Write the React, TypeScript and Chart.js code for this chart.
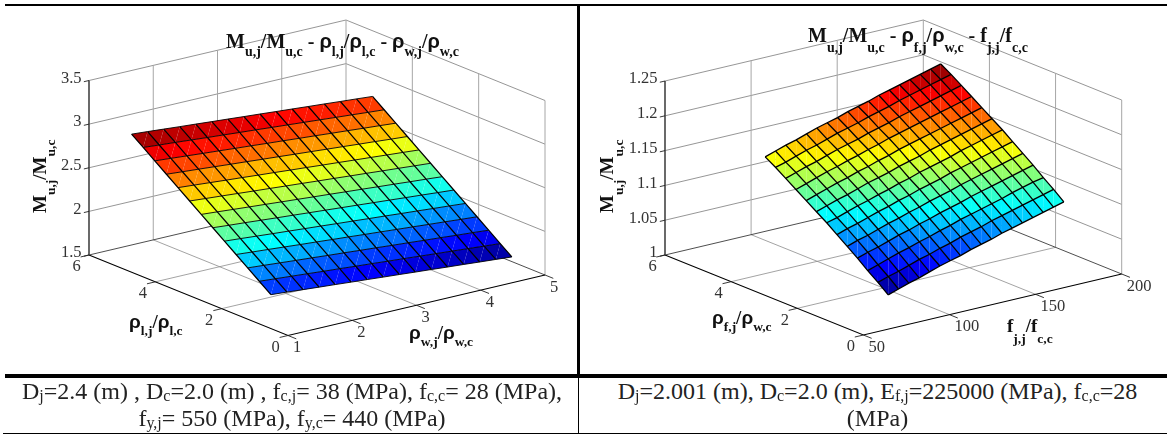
import React, { useEffect, useRef } from "react";
import { Chart, registerables } from "chart.js";

Chart.register(...registerables);

// ---------- left panel data ----------
const rhoWLeft = [1.25, 1.5, 1.75, 2, 2.25, 2.5, 2.75, 3, 3.25, 3.5, 3.75, 4, 4.25, 4.5, 4.75, 5];
const rhoLLeft = [1, 1.35, 1.7, 2.05, 2.4, 2.75, 3.1, 3.45, 3.8, 4.15, 4.5, 4.85, 5.2];
const zLeft = [
  [1.771, 1.757, 1.742, 1.727, 1.713, 1.698, 1.684, 1.669, 1.655, 1.64, 1.626, 1.611, 1.597, 1.582, 1.568, 1.553],
  [1.871, 1.856, 1.842, 1.827, 1.812, 1.798, 1.783, 1.769, 1.754, 1.74, 1.725, 1.711, 1.696, 1.682, 1.667, 1.653],
  [1.97, 1.956, 1.941, 1.926, 1.912, 1.897, 1.883, 1.868, 1.854, 1.839, 1.825, 1.81, 1.796, 1.781, 1.767, 1.752],
  [2.07, 2.055, 2.041, 2.026, 2.011, 1.997, 1.982, 1.968, 1.953, 1.939, 1.924, 1.91, 1.895, 1.881, 1.866, 1.852],
  [2.169, 2.155, 2.14, 2.125, 2.111, 2.096, 2.082, 2.067, 2.053, 2.038, 2.024, 2.009, 1.995, 1.98, 1.966, 1.951],
  [2.269, 2.254, 2.24, 2.225, 2.21, 2.196, 2.181, 2.167, 2.152, 2.138, 2.123, 2.109, 2.094, 2.08, 2.065, 2.051],
  [2.368, 2.354, 2.339, 2.324, 2.31, 2.295, 2.281, 2.266, 2.252, 2.237, 2.223, 2.208, 2.194, 2.179, 2.165, 2.15],
  [2.468, 2.453, 2.439, 2.424, 2.409, 2.395, 2.38, 2.366, 2.351, 2.337, 2.322, 2.308, 2.293, 2.279, 2.264, 2.25],
  [2.567, 2.553, 2.538, 2.523, 2.509, 2.494, 2.48, 2.465, 2.451, 2.436, 2.422, 2.407, 2.393, 2.378, 2.364, 2.349],
  [2.667, 2.652, 2.638, 2.623, 2.608, 2.594, 2.579, 2.565, 2.55, 2.536, 2.521, 2.507, 2.492, 2.478, 2.463, 2.449],
  [2.766, 2.752, 2.737, 2.722, 2.708, 2.693, 2.679, 2.664, 2.65, 2.635, 2.621, 2.606, 2.592, 2.577, 2.563, 2.548],
  [2.866, 2.851, 2.837, 2.822, 2.807, 2.793, 2.778, 2.764, 2.749, 2.735, 2.72, 2.706, 2.691, 2.677, 2.662, 2.648],
  [2.965, 2.951, 2.936, 2.921, 2.907, 2.892, 2.878, 2.863, 2.849, 2.834, 2.82, 2.805, 2.791, 2.776, 2.762, 2.747],
];
const zTicksLeft = [1.5, 2, 2.5, 3, 3.5];
const rhoLTicks = [0, 2, 4, 6];
const rhoWTicks = [1, 2, 3, 4, 5];

// ---------- right panel data ----------
const fRight = [74, 80, 86, 92, 98, 104, 110, 116, 122, 128, 134, 140, 146, 152, 158, 164, 170, 176];
const rhoFRight = [0.5, 0.81, 1.12, 1.43, 1.74, 2.05, 2.36, 2.67, 2.98, 3.29, 3.6, 3.91, 4.22];
const zRight = [
  [1.034, 1.039, 1.044, 1.048, 1.053, 1.058, 1.062, 1.066, 1.071, 1.075, 1.079, 1.084, 1.088, 1.092, 1.096, 1.1, 1.104, 1.108],
  [1.046, 1.051, 1.055, 1.06, 1.065, 1.069, 1.074, 1.078, 1.083, 1.087, 1.091, 1.096, 1.1, 1.104, 1.108, 1.112, 1.116, 1.12],
  [1.057, 1.062, 1.067, 1.072, 1.076, 1.081, 1.085, 1.09, 1.094, 1.099, 1.103, 1.107, 1.111, 1.115, 1.12, 1.124, 1.128, 1.131],
  [1.069, 1.074, 1.078, 1.083, 1.088, 1.092, 1.097, 1.101, 1.106, 1.11, 1.114, 1.119, 1.123, 1.127, 1.131, 1.135, 1.139, 1.143],
  [1.08, 1.085, 1.089, 1.094, 1.099, 1.103, 1.108, 1.112, 1.117, 1.121, 1.125, 1.13, 1.134, 1.138, 1.142, 1.146, 1.15, 1.154],
  [1.091, 1.096, 1.1, 1.105, 1.11, 1.114, 1.119, 1.123, 1.128, 1.132, 1.136, 1.141, 1.145, 1.149, 1.153, 1.157, 1.161, 1.165],
  [1.102, 1.106, 1.111, 1.116, 1.12, 1.125, 1.129, 1.134, 1.138, 1.143, 1.147, 1.151, 1.155, 1.16, 1.164, 1.168, 1.172, 1.176],
  [1.112, 1.117, 1.122, 1.126, 1.131, 1.136, 1.14, 1.144, 1.149, 1.153, 1.157, 1.162, 1.166, 1.17, 1.174, 1.178, 1.182, 1.186],
  [1.122, 1.127, 1.132, 1.137, 1.141, 1.146, 1.15, 1.155, 1.159, 1.164, 1.168, 1.172, 1.176, 1.18, 1.184, 1.188, 1.192, 1.196],
  [1.132, 1.137, 1.142, 1.147, 1.151, 1.156, 1.16, 1.165, 1.169, 1.174, 1.178, 1.182, 1.186, 1.19, 1.194, 1.198, 1.202, 1.206],
  [1.142, 1.147, 1.152, 1.156, 1.161, 1.166, 1.17, 1.174, 1.179, 1.183, 1.187, 1.192, 1.196, 1.2, 1.204, 1.208, 1.212, 1.216],
  [1.152, 1.156, 1.161, 1.166, 1.17, 1.175, 1.18, 1.184, 1.188, 1.193, 1.197, 1.201, 1.206, 1.21, 1.214, 1.218, 1.222, 1.226],
  [1.161, 1.166, 1.171, 1.175, 1.18, 1.185, 1.189, 1.193, 1.198, 1.202, 1.206, 1.211, 1.215, 1.219, 1.223, 1.227, 1.231, 1.235],
];
const zTicksRight = [1, 1.05, 1.1, 1.15, 1.2, 1.25];
const rhoFTicks = [0, 2, 4, 6];
const fTicks = [50, 100, 150, 200];

// ---------- text ----------
type Run = [string, "m" | "s" | "r"];
const titleLeft: Run[] = [["M", "m"], ["u,j", "s"], ["/M", "m"], ["u,c", "s"], [" - ", "m"], ["ρ", "r"], ["l,j", "s"], ["/", "m"], ["ρ", "r"], ["l,c", "s"], [" - ", "m"], ["ρ", "r"], ["w,j", "s"], ["/", "m"], ["ρ", "r"], ["w,c", "s"]];
const titleRight: Run[] = [["M", "m"], ["u,j", "s"], ["/M", "m"], ["u,c", "s"], [" - ", "m"], ["ρ", "r"], ["f,j", "s"], ["/", "m"], ["ρ", "r"], ["w,c", "s"], [" - ", "m"], ["f", "m"], ["j,j", "s"], ["/", "m"], ["f", "m"], ["c,c", "s"]];
const labelM: Run[] = [["M", "m"], ["u,j", "s"], ["/M", "m"], ["u,c", "s"]];
const labelRhoL: Run[] = [["ρ", "r"], ["l,j", "s"], ["/", "m"], ["ρ", "r"], ["l,c", "s"]];
const labelRhoW: Run[] = [["ρ", "r"], ["w,j", "s"], ["/", "m"], ["ρ", "r"], ["w,c", "s"]];
const labelRhoF: Run[] = [["ρ", "r"], ["f,j", "s"], ["/", "m"], ["ρ", "r"], ["w,c", "s"]];
const labelF: Run[] = [["f", "m"], ["j,j", "s"], ["/", "m"], ["f", "m"], ["c,c", "s"]];

type Seg = [string, boolean];
const captionLeft: Seg[][] = [
  [["D", false], ["j", true], ["=2.4 (m) , D", false], ["c", true], ["=2.0 (m) , f", false], ["c,j", true], ["= 38 (MPa), f", false], ["c,c", true], ["= 28 (MPa),", false]],
  [["f", false], ["y,j", true], ["= 550 (MPa), f", false], ["y,c", true], ["= 440 (MPa)", false]],
];
const captionRight: Seg[][] = [
  [["D", false], ["j", true], ["=2.001 (m), D", false], ["c", true], ["=2.0 (m), E", false], ["f,j", true], ["=225000 (MPa), f", false], ["c,c", true], ["=28", false]],
  [["(MPa)", false]],
];

// ---------- oblique box camera ----------
type Sizes = { m: number; s: number; r: number };
type Panel = {
  left: number; width: number; height: number;
  u: number[]; v: number[]; z: number[][];
  uTicks: number[]; vTicks: number[]; zTicks: number[];
  origin: number[]; uAxis: number[]; vAxis: number[]; zPix: number;
  uTickLen: number; vTickLen: number;
  rowWidth: number; colWidth: number;
  zLabelX: number;
  vLabelOff: number;
  title: Run[]; titlePos: number[]; titleSub: number;
  yLabelPos: number[]; yLabelSub: number;
  uLabel: Run[]; uLabelPos: number[]; uSub: number;
  vLabel: Run[]; vLabelPos: number[]; vSub: number;
  sizes: Sizes; titleSizes: Sizes;
};

const panels: Panel[] = [
  {
    left: 0, width: 577, height: 374,
    u: rhoLLeft, v: rhoWLeft, z: zLeft,
    uTicks: rhoLTicks, vTicks: rhoWTicks, zTicks: zTicksLeft,
    origin: [288, 335.5], uAxis: [-199, -80.5], vAxis: [257, -60.5], zPix: 174.5,
    uTickLen: 0.13, vTickLen: 0.25, rowWidth: 0.9, colWidth: 1.25,
    zLabelX: 81.5, vLabelOff: 5,
    title: titleLeft, titlePos: [226, 48], titleSub: 8,
    yLabelPos: [46, 213], yLabelSub: 9,
    uLabel: labelRhoL, uLabelPos: [129, 328], uSub: 7,
    vLabel: labelRhoW, vLabelPos: [409, 339], vSub: 7,
    sizes: { m: 19, s: 13.5, r: 19 }, titleSizes: { m: 20, s: 14, r: 20 },
  },
  {
    left: 580, width: 587, height: 374,
    u: rhoFRight, v: fRight, z: zRight,
    uTicks: rhoFTicks, vTicks: fTicks, zTicks: zTicksRight,
    origin: [863.4, 335], uAxis: [-198.4, -80], vAxis: [258.3, -61], zPix: 174,
    uTickLen: 5, vTickLen: 0.25, rowWidth: 1.3, colWidth: 1.3,
    zLabelX: 657.5, vLabelOff: 5,
    title: titleRight, titlePos: [808, 42], titleSub: 10,
    yLabelPos: [613, 213], yLabelSub: 10,
    uLabel: labelRhoF, uLabelPos: [712, 324], uSub: 7,
    vLabel: labelF, vLabelPos: [1007, 332], vSub: 11,
    sizes: { m: 19, s: 13.5, r: 19 }, titleSizes: { m: 20, s: 14, r: 20 },
  },
];

function jet(t: number): string {
  const c = (x: number) => Math.round(255 * Math.max(0, Math.min(1, 1.5 - Math.abs(x))));
  return `rgb(${c(4 * t - 3)},${c(4 * t - 2)},${c(4 * t - 1)})`;
}

function first(a: number[]) { return a[0]; }
function last(a: number[]) { return a[a.length - 1]; }

function buildDatasets(p: Panel) {
  const u0 = first(p.uTicks), u1 = last(p.uTicks);
  const v0 = first(p.vTicks), v1 = last(p.vTicks);
  const z0 = first(p.zTicks), z1 = last(p.zTicks);
  const project = (u: number, v: number, z: number) => {
    const su = (u - u0) / (u1 - u0);
    const sv = (v - v0) / (v1 - v0);
    const sz = (z - z0) / (z1 - z0);
    return {
      x: p.origin[0] + su * p.uAxis[0] + sv * p.vAxis[0],
      y: p.origin[1] + su * p.uAxis[1] + sv * p.vAxis[1] - sz * p.zPix,
    };
  };
  const list: any[] = [];
  const line = (pts: any[], color: string, width: number) =>
    list.push({ data: pts, showLine: true, fill: false, borderColor: color, borderWidth: width, pointRadius: 0, tension: 0, clip: false });

  const wallH = "#7b7b7b", wallV = "#a6a6a6", floor = "#8c8c8c";
  // walls: horizontal lines at each z tick
  p.zTicks.forEach((z) => {
    if (z !== z0) {
      line([project(u1, v0, z), project(u1, v1, z), project(u0, v1, z)], wallH, 0.8);
    }
  });
  // wall verticals and floor grid
  p.vTicks.forEach((v) => {
    if (v !== v0) line([project(u1, v, z0), project(u1, v, z1)], wallV, 1);
    if (v !== v0 && v !== v1) line([project(u0, v, z0), project(u1, v, z0)], floor, 0.8);
  });
  p.uTicks.forEach((u) => {
    if (u !== u1) line([project(u, v1, z0), project(u, v1, z1)], wallV, 1);
    if (u !== u0 && u !== u1) line([project(u, v0, z0), project(u, v1, z0)], floor, 0.8);
  });
  // back floor edges
  line([project(u1, v0, z0), project(u1, v1, z0), project(u0, v1, z0)], "#3a3a3a", 0.9);
  // front axes and ticks
  line([project(u1, v0, z0), project(u0, v0, z0), project(u0, v1, z0)], "#000000", 1.1);
  line([project(u1, v0, z0), project(u1, v0, z1)], "#444444", 1.6);
  p.zTicks.forEach((z) => {
    line([project(u1, v0, z), project(u1, v0 - (v1 - v0) * 0.02, z)], "#222222", 0.9);
  });
  p.uTicks.forEach((u) => line([project(u, v0, z0), project(u, v0 - p.uTickLen, z0)], "#222222", 0.9));
  p.vTicks.forEach((v) => line([project(u0, v, z0), project(u0 - p.vTickLen, v, z0)], "#222222", 0.9));

  // facets: every cell is two triangles, the seam stays faintly visible
  const nu = p.u.length, nv = p.v.length;
  const avg = (i: number, j: number) => (p.z[i][j] + p.z[i][j + 1] + p.z[i + 1][j] + p.z[i + 1][j + 1]) / 4;
  let lo = Infinity, hi = -Infinity;
  p.z.forEach((row) => row.forEach((value) => { lo = Math.min(lo, value); hi = Math.max(hi, value); }));
  for (let i = 0; i < nu - 1; i++) for (let j = 0; j < nv - 1; j++) {
    const color = jet((avg(i, j) - lo) / (hi - lo));
    const a = project(p.u[i], p.v[j], p.z[i][j]);
    const b = project(p.u[i], p.v[j + 1], p.z[i][j + 1]);
    const c = project(p.u[i + 1], p.v[j + 1], p.z[i + 1][j + 1]);
    const d = project(p.u[i + 1], p.v[j], p.z[i + 1][j]);
    [[a, b, c], [a, c, d]].forEach((tri) =>
      list.push({ data: tri, showLine: true, fill: "shape", backgroundColor: color, borderWidth: 1, borderColor: "rgba(0,0,0,0)", pointRadius: 0, tension: 0, clip: false })
    );
  }
  // mesh
  for (let i = 0; i < nu; i++) line(p.v.map((v, j) => project(p.u[i], v, p.z[i][j])), "#000000", p.rowWidth);
  for (let j = 0; j < nv; j++) line(p.u.map((u, i) => project(u, p.v[j], p.z[i][j])), "#000000", p.colWidth);

  return { datasets: list.reverse(), project };
}

function drawRuns(ctx: CanvasRenderingContext2D, runs: Run[], sub: number, sizes: Sizes) {
  let x = 0;
  runs.forEach(([text, kind]) => {
    ctx.font = kind === "r"
      ? `bold ${sizes.r}px "Liberation Sans"`
      : kind === "m"
      ? `bold ${sizes.m}px "Liberation Serif"`
      : `bold ${sizes.s}px "Liberation Serif"`;
    ctx.fillText(text, x, kind === "s" ? sub : 0);
    x += ctx.measureText(text).width;
  });
}

function textPlugin(p: Panel, project: (u: number, v: number, z: number) => { x: number; y: number }) {
  return {
    id: "boxText",
    afterDraw(chart: any) {
      const ctx: CanvasRenderingContext2D = chart.ctx;
      const u0 = first(p.uTicks), u1 = last(p.uTicks);
      const v0 = first(p.vTicks);
      const z0 = first(p.zTicks);
      const ox = p.left;
      ctx.save();
      ctx.fillStyle = "#333333";
      ctx.font = '16.5px "Liberation Serif"';
      ctx.textBaseline = "middle";
      ctx.textAlign = "right";
      p.zTicks.forEach((z) => {
        const q = project(u1, v0, z);
        ctx.fillText(String(z), p.zLabelX - ox, q.y - 2);
      });
      ctx.textAlign = "center";
      p.uTicks.forEach((u) => {
        const q = project(u, v0, z0);
        ctx.fillText(String(u), q.x - 12.5 - ox, q.y + 12);
      });
      ctx.textAlign = "left";
      p.vTicks.forEach((v) => {
        const q = project(u0, v, z0);
        ctx.fillText(String(v), q.x + p.vLabelOff - ox, q.y + 12.5);
      });
      ctx.textAlign = "left";
      ctx.textBaseline = "alphabetic";
      ctx.fillStyle = "#111111";
      const place = (runs: Run[], pos: number[], sub: number, sizes: Sizes, rot = 0) => {
        ctx.save();
        ctx.translate(pos[0] - ox, pos[1]);
        if (rot) ctx.rotate(rot);
        drawRuns(ctx, runs, sub, sizes);
        ctx.restore();
      };
      place(p.title, p.titlePos, p.titleSub, p.titleSizes);
      place(labelM, p.yLabelPos, p.yLabelSub, p.sizes, -Math.PI / 2);
      place(p.uLabel, p.uLabelPos, p.uSub, p.sizes);
      place(p.vLabel, p.vLabelPos, p.vSub, p.sizes);
      ctx.restore();
    },
  };
}

function Plot({ panel }: { panel: Panel }) {
  const ref = useRef<HTMLCanvasElement>(null);
  useEffect(() => {
    const { datasets, project } = buildDatasets(panel);
    const chart = new Chart(ref.current as HTMLCanvasElement, {
      type: "scatter",
      data: { datasets },
      plugins: [textPlugin(panel, project)],
      options: {
        animation: false,
        responsive: false,
        events: [],
        layout: { padding: 0 },
        plugins: { legend: { display: false }, title: { display: false }, tooltip: { enabled: false } },
        scales: {
          x: { type: "linear", display: false, min: panel.left, max: panel.left + panel.width },
          y: { type: "linear", display: false, min: 0, max: panel.height, reverse: true },
        },
      },
    } as any);
    return () => chart.destroy();
  }, [panel]);
  return (
    <canvas
      ref={ref}
      width={panel.width}
      height={panel.height}
      style={{ position: "absolute", left: panel.left, top: 0, width: panel.width, height: panel.height }}
    />
  );
}

function Rule({ x, y, w, h }: { x: number; y: number; w: number; h: number }) {
  return <div style={{ position: "absolute", left: x, top: y, width: w, height: h, background: "#000" }} />;
}

function Caption({ lines, center }: { lines: Seg[][]; center: number }) {
  return (
    <>
      {lines.map((segs, i) => (
        <div
          key={i}
          style={{
            position: "absolute", left: center - 290, width: 580, top: 378 + i * 27, height: 27,
            lineHeight: "27px", textAlign: "center", whiteSpace: "nowrap",
            fontFamily: '"Liberation Serif"', fontSize: 24, color: "#222",
          }}
        >
          {segs.map(([t, sub], k) =>
            sub ? (
              <span key={k} style={{ fontSize: 16, position: "relative", top: 2 }}>{t}</span>
            ) : (
              <span key={k} style={{ whiteSpace: "pre" }}>{t}</span>
            )
          )}
        </div>
      ))}
    </>
  );
}

export default function App() {
  return (
    <div style={{ position: "absolute", left: 0, top: 0, width: 1167, height: 434, background: "#fff", overflow: "hidden" }}>
      <Plot panel={panels[0]} />
      <Plot panel={panels[1]} />
      <Rule x={5} y={4} w={1162} h={2} />
      <Rule x={5} y={374} w={1162} h={4} />
      <Rule x={3} y={433} w={1164} h={1} />
      <Rule x={577} y={4} w={3} h={372} />
      <Rule x={578} y={376} w={1} h={58} />
      <Caption lines={captionLeft} center={292} />
      <Caption lines={captionRight} center={877.5} />
    </div>
  );
}
